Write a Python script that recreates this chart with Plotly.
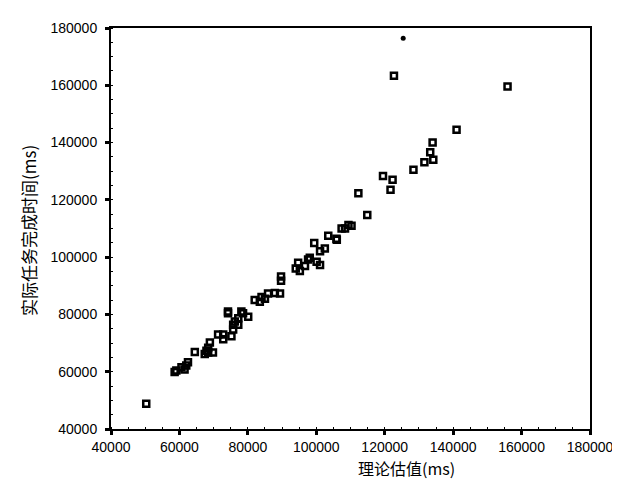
import plotly.graph_objects as go

# Theoretical estimate (ms) and actual completion time (ms)
x_est = [50300, 58600, 59100, 60600, 62000, 62500, 61500, 64500, 67400, 67900,
         68400, 68900, 69800, 68400, 71300, 72800, 72800, 75200, 74200, 74200,
         76200, 75700, 75700, 77200, 78600, 80100, 78100, 77200, 82000, 83500,
         84000, 85000, 85900, 87900, 89400, 89700, 89700, 94700, 95200, 96700,
         97600, 98100, 100100, 101100, 99400, 101100, 103500, 105900, 107400, 108400,
         109400, 110300, 106000, 112300, 114900, 119500, 121700, 122300, 122700, 128400,
         131600, 133300, 134000, 134200, 141000, 155900, 94000, 102500]
y_act = [48800, 59900, 60400, 61600, 62200, 63300, 60800, 66900, 66200, 67300,
         68400, 70200, 66700, 66700, 73000, 71300, 73000, 72400, 81000, 80400,
         77500, 74700, 76400, 76400, 80400, 79200, 81000, 78700, 85000, 84400,
         86100, 85500, 87300, 87500, 87300, 91800, 93200, 98000, 95200, 96900,
         99200, 99800, 98400, 97300, 104900, 102100, 107500, 106400, 110000, 110000,
         111200, 111000, 106100, 122300, 114700, 128300, 123500, 127000, 163300, 130500,
         133100, 136600, 140000, 134000, 144500, 159600, 96000, 103000]

# Single filled point at the top
x_dot = [125400]
y_dot = [176400]

tick_vals = [40000, 60000, 80000, 100000, 120000, 140000, 160000, 180000]
tick_text = ["40000", "60000", "80000", "100000", "120000", "140000", "160000", "180000"]

x_title = "理论估值(ms)"
y_title = "实际任务完成时间(ms)"

fig = go.Figure()
fig.add_trace(go.Scatter(
    x=x_est, y=y_act, mode="markers",
    marker=dict(symbol="square-open", size=6, color="black",
                line=dict(color="black", width=2.5)),
    showlegend=False, hoverinfo="x+y"))
fig.add_trace(go.Scatter(
    x=x_dot, y=y_dot, mode="markers",
    marker=dict(symbol="circle", size=5, color="black"),
    showlegend=False, hoverinfo="x+y"))

axis_common = dict(
    range=[40000, 180000], tickvals=tick_vals, ticktext=tick_text,
    showgrid=False, zeroline=False,
    showline=True, linecolor="black", linewidth=2, mirror=True,
    ticks="outside", ticklen=4, tickwidth=3, tickcolor="black",
    minor=dict(ticks="inside", ticklen=2, tickwidth=1, tickcolor="black", dtick=5000),
    tickfont=dict(family="Liberation Sans, Arial, sans-serif", size=14, color="black"),
)

fig.update_xaxes(**axis_common)
fig.update_yaxes(**axis_common, ticklabelstandoff=5)

fig.update_layout(
    width=620, height=483,
    margin=dict(l=103, r=38, t=12, b=62),
    paper_bgcolor="white", plot_bgcolor="white",
    font=dict(family="Noto Sans CJK SC, sans-serif", color="black"),
    annotations=[
        dict(text=x_title, xref="paper", yref="paper", x=0.6165, y=-0.098,
             xanchor="center", yanchor="middle", showarrow=False,
             font=dict(family="Noto Sans CJK SC, serif", size=16, color="black")),
        dict(text=y_title, xref="paper", yref="paper", x=-0.1735, y=0.496,
             xanchor="center", yanchor="middle", showarrow=False, textangle=-90,
             font=dict(family="Noto Sans CJK SC, serif", size=17, color="black")),
    ],
)

fig.write_html("out.html")
